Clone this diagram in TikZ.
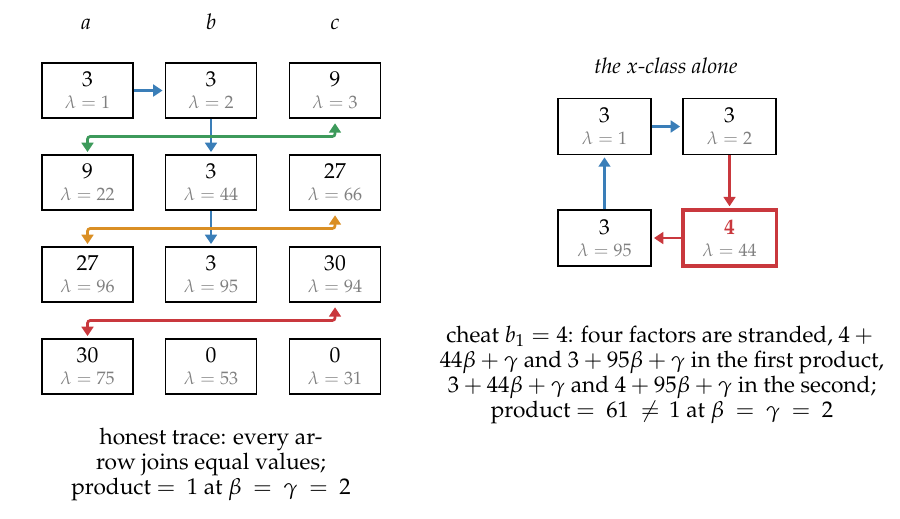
\documentclass[tikz,border=0pt]{standalone}
\usepackage[T1]{fontenc}
\usepackage{mathpazo}
\usetikzlibrary{arrows.meta,calc}
\definecolor{cblue}{RGB}{58,126,184}
\definecolor{cgreen}{RGB}{61,154,91}
\definecolor{corange}{RGB}{218,143,36}
\definecolor{cred}{RGB}{201,56,61}
\definecolor{lamgray}{RGB}{128,128,128}
\newcommand{\lam}[1]{{\fontsize{10}{12}\selectfont\color{lamgray}$\lambda = #1$}}
\tikzset{
  cell/.style={draw=black, line width=0.8pt, minimum width=50.6pt, minimum height=30.6pt,
    inner sep=0pt, align=center, font=\fontsize{12}{12.2}\selectfont},
  rcell/.style={cell, minimum width=51.7pt, minimum height=31.1pt},
  link/.style={line width=1.5pt, rounded corners=1.5pt,
    -{Triangle[length=5.2pt,width=6.5pt]}, shorten >=1.2pt},
  dlink/.style={link, {Triangle[length=5.2pt,width=6.5pt]}-{Triangle[length=5.2pt,width=6.5pt]}, shorten <=2.5pt},
  collabel/.style={anchor=base, font=\fontsize{12}{14}\selectfont, inner sep=0pt},
  caption/.style={align=center, font=\fontsize{12.6}{13.9}\selectfont, inner sep=0pt},
}
\begin{document}
\begin{tikzpicture}[x=0.5556pt,y=-0.5556pt]
\useasboundingbox (0,0) rectangle (900,518);
% column labels
\node[collabel] (la) at (86,29) {$a$};
\node[collabel] (lb) at (211,29) {$b$};
\node[collabel] (lc) at (335,29) {$c$};
% left grid
\node[cell] (a1) at (87.5,90.5) {3\\\lam{1}};
\node[cell] (b1) at (211,90.5) {3\\\lam{2}};
\node[cell] (c1) at (335,90.5) {9\\\lam{3}};
\node[cell] (a2) at (87.5,182.5) {9\\\lam{22}};
\node[cell] (b2) at (211,182.5) {3\\\lam{44}};
\node[cell] (c2) at (335,182.5) {27\\\lam{66}};
\node[cell] (a3) at (87.5,274.5) {27\\\lam{96}};
\node[cell] (b3) at (211,274.5) {3\\\lam{95}};
\node[cell] (c3) at (335,274.5) {30\\\lam{94}};
\node[cell] (a4) at (87.5,366.5) {30\\\lam{75}};
\node[cell] (b4) at (211,366.5) {0\\\lam{53}};
\node[cell] (c4) at (335,366.5) {0\\\lam{31}};
% mid-gap rails
\coordinate (g1) at ($(a1.south)!.5!(a2.north)$);
\coordinate (g2) at ($(a2.south)!.5!(a3.north)$);
\coordinate (g3) at ($(a3.south)!.5!(a4.north)$);
% left connectors
\draw[link, cblue] (a1) -- (b1);
\draw[link, cblue] (b1) -- (b2);
\draw[link, cblue] (b2) -- (b3);
\draw[dlink, cgreen] (c1.south) -- (c1.south |- g1) -- (g1) -- (a2.north);
\draw[dlink, corange] (c2.south) -- (c2.south |- g2) -- (g2) -- (a3.north);
\draw[dlink, cred] (c3.south) -- (c3.south |- g3) -- (g3) -- (a4.north);
% left caption
\node[caption] (lcap) at (211,464) {honest trace: every ar-\\row joins equal values;\\product $=$\ \ 1 at $\beta$\ \ $=$\ \ $\gamma$\ \ $=$\ \ 2};
% right panel
\node[anchor=base, inner sep=0pt, font=\fontsize{12}{13}\selectfont\itshape] (rtitle) at (666,73) {the $x$-class alone};
\node[rcell] (tl) at (604.5,126.5) {3\\\lam{1}};
\node[rcell] (tr) at (729.5,126.5) {3\\\lam{2}};
\node[rcell] (bl) at (604.5,238) {3\\\lam{95}};
\node[rcell, draw=cred, line width=1.7pt] (br) at (729.5,238) {\textcolor{cred}{\textbf{4}}\\\lam{44}};
\draw[link, cblue] (tl) -- (tr);
\draw[link, cred] (tr) -- (br);
\draw[link, cred] (br) -- (bl);
\draw[link, cblue] (bl) -- (tl);
% right caption
\node[caption] (rcap) at (662,375) {cheat $b_1 = 4$: four factors are stranded, $4 +{}$\\$44\beta + \gamma$ and $3 + 95\beta + \gamma$ in the first product,\\$3 + 44\beta + \gamma$ and $4 + 95\beta + \gamma$ in the second;\\product $=$\ \ 61\ \ $\neq$\ \,1 at $\beta$\ \ $=$\ \ $\gamma$\ \ $=$\ \ 2};
\end{tikzpicture}
\end{document}
